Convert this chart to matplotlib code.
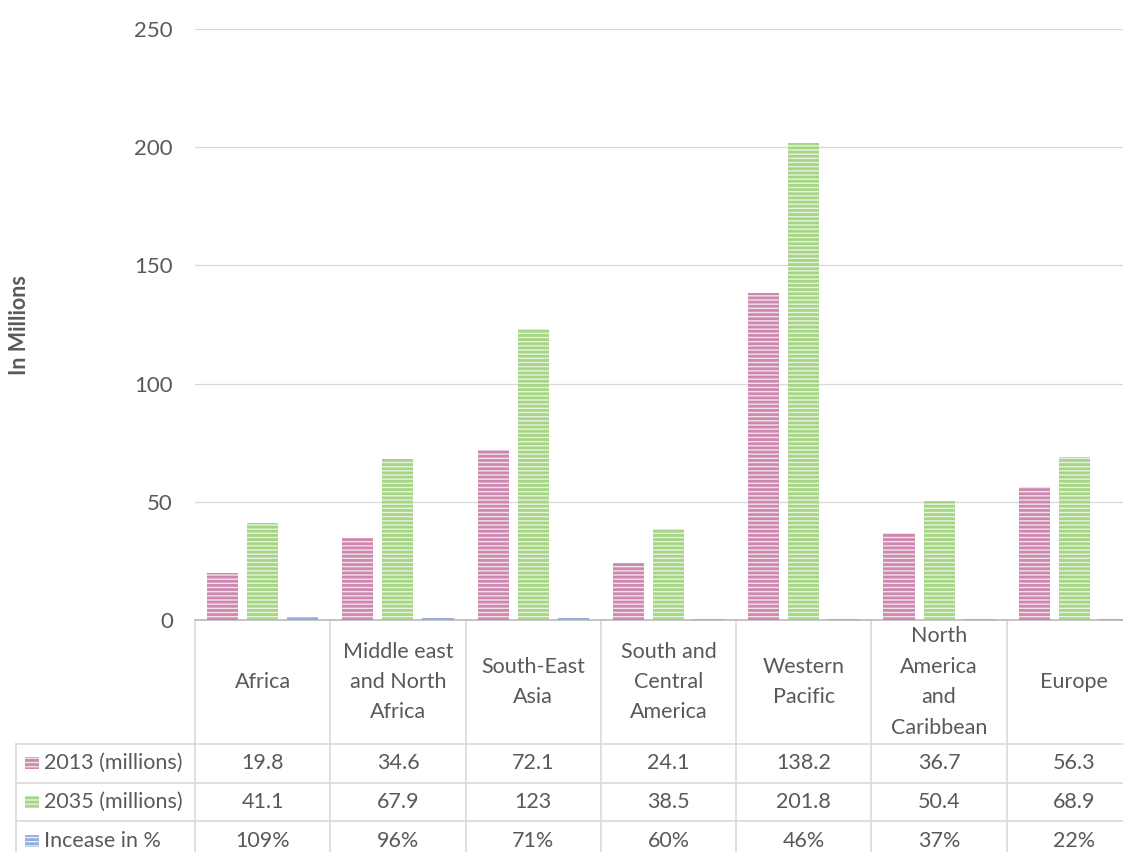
import matplotlib
matplotlib.use('Agg')
import matplotlib.pyplot as plt
import matplotlib.transforms as mtransforms
from matplotlib.patches import Rectangle
import numpy as np

plt.rcParams['font.family'] = ['Lato', 'DejaVu Sans']
plt.rcParams['hatch.linewidth'] = 2.0

regions = ['Africa', 'Middle east\nand North\nAfrica', 'South-East\nAsia',
           'South and\nCentral\nAmerica', 'Western\nPacific',
           'North\nAmerica\nand\nCaribbean', 'Europe']
mil_2013 = [19.8, 34.6, 72.1, 24.1, 138.2, 36.7, 56.3]
mil_2035 = [41.1, 67.9, 123, 38.5, 201.8, 50.4, 68.9]
increase = [1.09, 0.96, 0.71, 0.60, 0.46, 0.37, 0.22]
series_names = ['2013 (millions)', '2035 (millions)', 'Incease in %']
yticks = [0, 50, 100, 150, 200, 250]

# light face, darker stripes
faces = ['#f3e1ea', '#e6f3dc', '#e2e9f6']
stripes = ['#cd88b0', '#a6d585', '#95afdd']
text_col = '#595959'
line_col = '#d9d9d9'
fs = 15.5

W, H = 1123, 852
fig = plt.figure(figsize=(W / 100, H / 100), dpi=100)
ax = fig.add_axes([195 / W, 1 - 620 / H, 947 / W, 591 / H])

x = np.arange(len(regions))
bw = 0.23
step = 0.296
for k, vals in enumerate([mil_2013, mil_2035, increase]):
    ax.bar(x + (k - 1) * step, vals, bw, color=faces[k], edgecolor=stripes[k],
           linewidth=0, hatch='----', zorder=3)

ax.set_xlim(-0.5, len(regions) - 0.5)
ax.set_ylim(0, 250)
ax.set_yticks(yticks)
ax.set_xticks([])
ax.tick_params(axis='y', length=0, pad=16, labelsize=16, labelcolor=text_col)
ax.grid(axis='y', color=line_col, linewidth=0.9, zorder=0)
for s in ['top', 'right', 'left']:
    ax.spines[s].set_visible(False)
ax.spines['bottom'].set_color('#bfbfbf')
ax.spines['bottom'].set_linewidth(1.2)

fig.text(20 / W, 1 - 325 / H, 'In Millions', rotation=90, ha='center',
         va='center', fontsize=15.5, fontweight='bold', color=text_col)

# data table under the plot, y measured in pixels from the top
px = mtransforms.Affine2D().scale(1, -1).translate(0, H)
colx = mtransforms.blended_transform_factory(ax.transData, px)

top, head_bot = 620, 744
row_h = 38.7
rows_bot = [head_bot + row_h * (i + 1) for i in range(3)]
left_px = 16

edges = np.arange(len(regions) + 1) - 0.5
for e in edges:
    ax.plot([e, e], [top, rows_bot[-1]], transform=colx, color=line_col,
            lw=1.2, clip_on=False)
ax.plot([edges[0], edges[-1]], [top, top], transform=colx, color=line_col,
        lw=1.2, clip_on=False)
for yb in [head_bot] + rows_bot:
    ax.plot([edges[0], edges[-1]], [yb, yb], transform=colx, color=line_col,
            lw=1.2, clip_on=False)
    ax.plot([left_px, 195], [yb, yb], transform=px, color=line_col, lw=1.2,
            clip_on=False)
ax.plot([left_px, left_px], [head_bot, rows_bot[-1]], transform=px,
        color=line_col, lw=1.2, clip_on=False)

for i, name in enumerate(regions):
    ax.text(x[i], (top + head_bot) / 2, name, transform=colx, ha='center',
            va='center', fontsize=fs, color=text_col, linespacing=1.65,
            clip_on=False)

labels = [[f'{v:g}' for v in mil_2013], [f'{v:g}' for v in mil_2035],
          [f'{v:.0%}' for v in increase]]
for r in range(3):
    yc = head_bot + row_h * (r + 0.5)
    for i in range(len(regions)):
        ax.text(x[i], yc, labels[r][i], transform=colx, ha='center',
                va='center', fontsize=fs, color=text_col, clip_on=False)
    fig.patches.append(Rectangle((25, yc - 6), 14, 12, transform=px,
                                 facecolor=faces[r], edgecolor=stripes[r],
                                 linewidth=0, hatch='----'))
    fig.text(44, yc, series_names[r], transform=px, ha='left', va='center',
             fontsize=fs, color=text_col)

fig.savefig('out.png', dpi=100)
